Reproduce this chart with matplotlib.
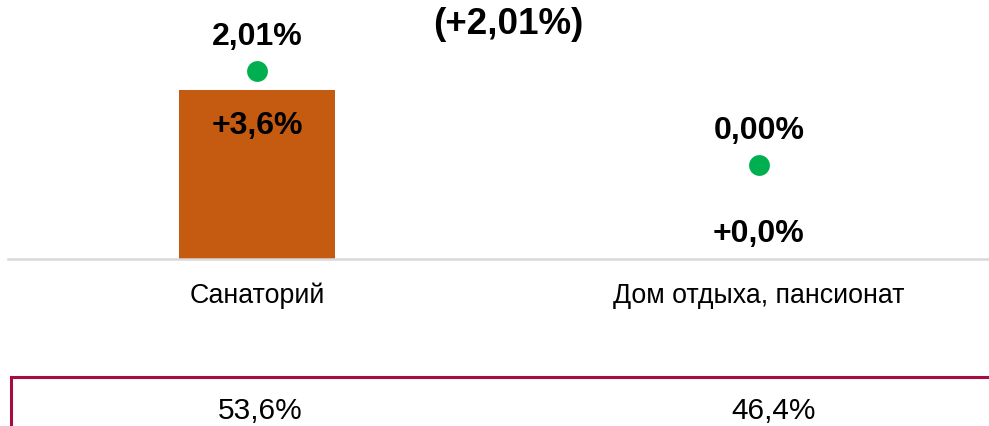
import matplotlib
matplotlib.use("Agg")
import matplotlib.pyplot as plt
from matplotlib.lines import Line2D

plt.rcParams['font.family'] = ['Liberation Sans', 'DejaVu Sans']

# ---- data ----
categories = ["Санаторий", "Дом отдыха, пансионат"]
growth = [3.6, 0.0]                 # bar values, %
growth_labels = ["+3,6%", "+0,0%"]
share_change = [2.01, 0.00]         # green dots, %
share_change_labels = ["2,01%", "0,00%"]
shares = ["53,6%", "46,4%"]
title = "(+2,01%)"

W, H = 989, 427
fig = plt.figure(figsize=(W / 100, H / 100), dpi=100)

def fx(px):
    return px / W

def fy(py):
    return 1 - py / H

# main axes: left 8px, right 989px, baseline at y=260px, top at 0
ax = fig.add_axes([fx(8), fy(260), fx(989 - 8), 260 / H])
x = list(range(len(categories)))
scale = 46.9  # px per unit
ax.set_xlim(-249 / 502, (989 - 257) / 502)
ax.set_ylim(0, 260 / scale)
ax.bar(x, growth, width=0.311, color="#C55A11", zorder=2)

for xi, v, lab in zip(x, growth, growth_labels):
    off = -35 if v > 0 else 26
    ax.annotate(lab, (xi, v), xytext=(0, off * 0.72), textcoords="offset points",
                ha="center", va="center", fontsize=23, fontweight="bold", color="black", zorder=3)

for s in ["top", "right", "left"]:
    ax.spines[s].set_visible(False)
ax.spines["bottom"].set_color("#D9D9D9")
ax.spines["bottom"].set_linewidth(1.8)
ax.set_yticks([])
ax.set_xticks(x)
ax.set_xticklabels(categories, fontsize=19.3)
ax.tick_params(axis="x", length=0, pad=16.5)

# secondary axes for dots
ax2 = ax.twinx()
ax2.set_ylim(-94 / scale, (260 - 94) / scale)
ax2.set_xlim(ax.get_xlim())
ax2.plot(x, share_change, linestyle="none", marker="o", markersize=15,
         color="#00B050", markeredgewidth=0, zorder=4)
for xi, v, lab in zip(x, share_change, share_change_labels):
    ax2.annotate(lab, (xi, v), xytext=(0, 35 * 0.72), textcoords="offset points",
                 ha="center", va="center", fontsize=23, fontweight="bold", color="black")
ax2.axis("off")

fig.text(fx(508), fy(24), title, ha="center", va="center", fontsize=26.5, fontweight="bold")

# bottom table
line_color = "#A50E3F"
fig.add_artist(Line2D([fx(11), fx(989)], [fy(378), fy(378)], color=line_color, linewidth=2.2))
fig.add_artist(Line2D([fx(11), fx(11)], [fy(378), fy(427)], color=line_color, linewidth=2.2))
share_x = [260, 774]
for px, s in zip(share_x, shares):
    fig.text(fx(px), fy(411), s, ha="center", va="center", fontsize=21.5)

fig.savefig("out.png", dpi=100)
